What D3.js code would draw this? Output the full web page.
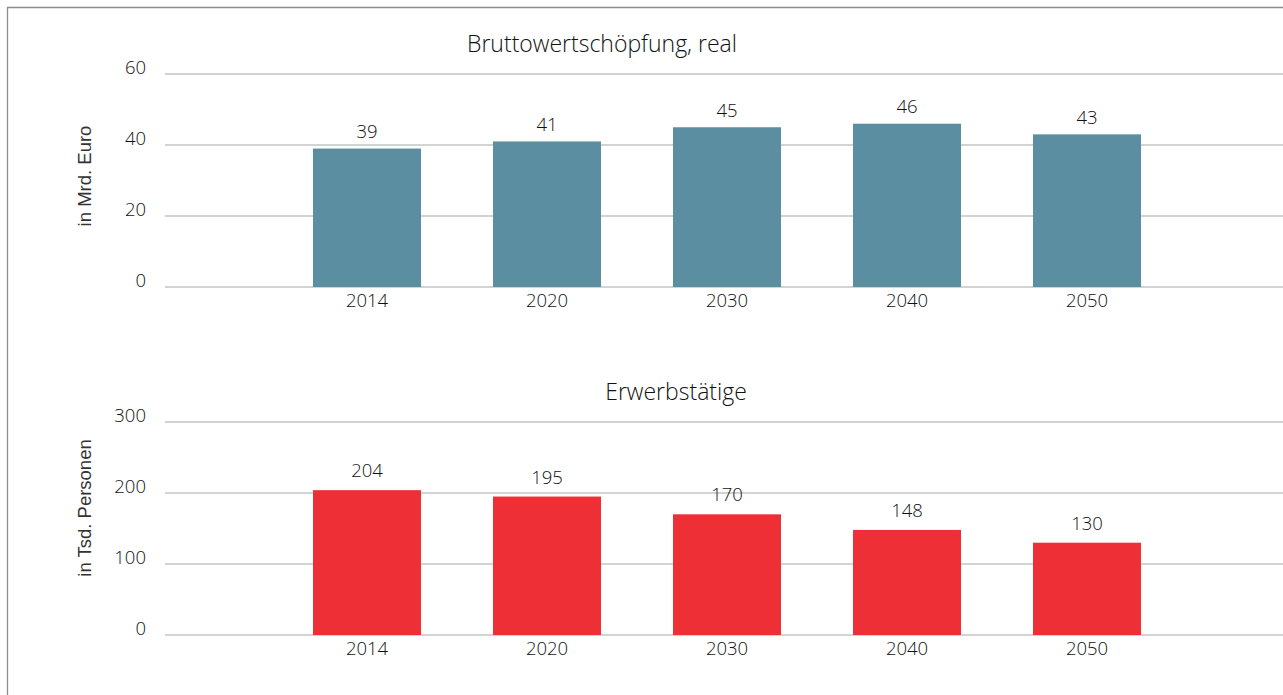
<!DOCTYPE html>
<html>
<head>
<meta charset="utf-8">
<script src="https://cdn.jsdelivr.net/npm/d3@7"></script>
<style>
  html, body { margin: 0; padding: 0; background: #fff; }
  svg { display: block; }
  .lbl { font-family: "Open Sans", sans-serif; font-weight: 300; fill: #111; }
  .ytitle { font-family: "Liberation Sans", Arial, sans-serif; fill: #333; }
</style>
</head>
<body>
<svg id="chart" width="1283" height="695"></svg>
<script>
// Years shown on both panels
const years = ["2014", "2020", "2030", "2040", "2050"];

// Gross value added, real (bn EUR)
const gvaValues = [39, 41, 45, 46, 43];
const gvaTicks = [0, 20, 40, 60];

// Persons employed (thousands)
const empValues = [204, 195, 170, 148, 130];
const empTicks = [0, 100, 200, 300];

const svg = d3.select("#chart");

// Frame line on the left and top
svg.append("path")
  .attr("d", "M7.5,695 V7.5 H1283")
  .attr("fill", "none")
  .attr("stroke", "#8c8c8c")
  .attr("stroke-width", 1.3);

const x = d3.scaleBand()
  .domain(years)
  .range([277, 1177])
  .paddingInner(0.4)
  .paddingOuter(0.2);

function panel(opts) {
  const { values, ticks, color, top, bottom, title, titleX, titleY, yTitle, yTitleY, labelGap } = opts;
  const y = d3.scaleLinear()
    .domain([0, ticks[ticks.length - 1]])
    .range([bottom, top]);

  const g = svg.append("g");

  // Horizontal gridlines
  g.selectAll("line.grid")
    .data(ticks)
    .join("line")
    .attr("x1", 165).attr("x2", 1283)
    .attr("y1", d => y(d)).attr("y2", d => y(d))
    .attr("stroke", "#c4c4c4")
    .attr("stroke-width", 1.3);

  // Y tick labels
  g.selectAll("text.ytick")
    .data(ticks)
    .join("text")
    .attr("class", "lbl")
    .attr("x", 146)
    .attr("y", d => y(d))
    .attr("text-anchor", "end")
    .attr("font-size", 18.5)
    .text(d => d);

  // Bars
  g.selectAll("rect.bar")
    .data(values)
    .join("rect")
    .attr("x", (d, i) => x(years[i]))
    .attr("width", x.bandwidth())
    .attr("y", d => y(d))
    .attr("height", d => y(0) - y(d))
    .attr("fill", color);

  // Value labels
  g.selectAll("text.val")
    .data(values)
    .join("text")
    .attr("class", "lbl")
    .attr("x", (d, i) => x(years[i]) + x.bandwidth() / 2)
    .attr("y", d => y(d) - labelGap)
    .attr("text-anchor", "middle")
    .attr("font-size", 18.5)
    .text(d => d);

  // Category labels
  g.selectAll("text.xtick")
    .data(years)
    .join("text")
    .attr("class", "lbl")
    .attr("x", d => x(d) + x.bandwidth() / 2)
    .attr("y", y(0) + 20)
    .attr("text-anchor", "middle")
    .attr("font-size", 18.5)
    .text(d => d);

  // Panel title
  g.append("text")
    .attr("class", "lbl")
    .attr("x", titleX)
    .attr("y", titleY)
    .attr("text-anchor", "middle")
    .attr("font-size", 23)
    .text(title);

  // Axis title
  g.append("text")
    .attr("class", "ytitle")
    .attr("transform", `translate(91,${yTitleY}) rotate(-90)`)
    .attr("text-anchor", "middle")
    .attr("font-size", 18.5)
    .text(yTitle);
}

panel({
  values: gvaValues, ticks: gvaTicks, color: "#5a8ea0",
  top: 74, bottom: 287,
  title: "Bruttowertschöpfung, real", titleX: 602, titleY: 52,
  yTitle: "in Mrd. Euro", yTitleY: 176, labelGap: 10.5
});

panel({
  values: empValues, ticks: empTicks, color: "#ee2f35",
  top: 422, bottom: 635,
  title: "Erwerbstätige", titleX: 676, titleY: 400,
  yTitle: "in Tsd. Personen", yTitleY: 508, labelGap: 13
});
</script>
</body>
</html>
